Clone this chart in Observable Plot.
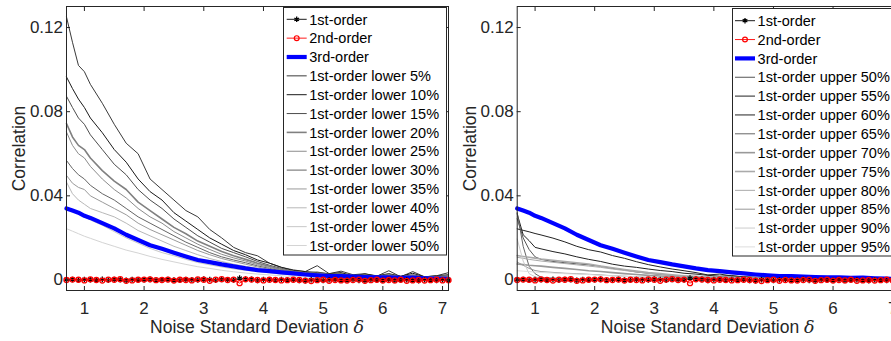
<!DOCTYPE html>
<html><head><meta charset="utf-8">
<script src="https://cdn.jsdelivr.net/npm/d3@7"></script>
<script src="https://cdn.jsdelivr.net/npm/@observablehq/plot@0.6"></script>
<style>
html,body{margin:0;padding:0;background:#fff;overflow:hidden;}
#wrap{position:relative;width:891px;height:341px;overflow:hidden;font-family:"Liberation Sans",Arial,sans-serif;}
.panel{position:absolute;top:0;width:450px;height:341px;}
#overlay{position:absolute;left:0;top:0;}
</style></head><body>
<div id="wrap"><div class="panel" id="p1" style="left:0"></div><div class="panel" id="p2" style="left:450px"></div></div>
<script>
// ---------- data ----------
const xTicks = [1, 2, 3, 4, 5, 6, 7];
const yTicks = [0, 0.04, 0.08, 0.12];
const xLabel = "Noise Standard Deviation ";
const yLabel = "Correlation";

// coarse grid for the percentile curves and 3rd-order
const G = [0.7,0.8,0.9,1.0,1.1, 1.3,1.5,1.7,1.9,2.1, 2.3,2.5,2.7,2.9,3.1, 3.3,3.5,3.7,3.9,4.1,
           4.3,4.5,4.7,4.9,5.1, 5.3,5.5,5.7,5.9,6.1, 6.3,6.5,6.7,6.9,7.1];
// fine grid for 1st/2nd-order (markers)
const xFine = [0.7,0.8,0.9,1.0,1.1,1.2,1.3,1.4,1.5,1.6, 1.7,1.8,1.9,2.0,2.1,2.2,2.3,2.4,2.5,2.6,
               2.7,2.8,2.9,3.0,3.1,3.2,3.3,3.4,3.5,3.6, 3.7,3.8,3.9,4.0,4.1,4.2,4.3,4.4,4.5,4.6,
               4.7,4.8,4.9,5.0,5.1,5.2,5.3,5.4,5.5,5.6, 5.7,5.8,5.9,6.0,6.1,6.2,6.3,6.4,6.5,6.6,
               6.7,6.8,6.9,7.0,7.1];

const first = [0.0001,0.0002,-0.0001,0.0002,0.0001,0.0000,0.0003,-0.0001,0.0002,0.0001,
               -0.0002,0.0002,0.0000,0.0001,0.0003,-0.0001,0.0001,0.0002,0.0000,-0.0001,
               0.0002,0.0001,0.0000,0.0004,0.0002,-0.0001,0.0003,0.0001,0.0000,0.0009,
               0.0004,0.0003,-0.0002,0.0002,0.0001,-0.0001,0.0002,0.0000,0.0001,-0.0002,
               -0.0003,0.0001,0.0000,-0.0002,0.0001,0.0002,-0.0001,0.0000,0.0003,-0.0002,
               -0.0003,0.0001,0.0000,-0.0001,0.0002,-0.0002,0.0000,0.0001,-0.0001,-0.0003,
               0.0001,0.0000,-0.0002,0.0001,0.0000];
const second = [0.0000,0.0002,0.0001,-0.0002,0.0003,0.0000,-0.0003,0.0002,0.0001,0.0004,
                -0.0004,-0.0002,0.0001,0.0002,0.0003,-0.0001,0.0000,0.0002,-0.0003,0.0001,
                0.0000,-0.0002,0.0003,0.0001,-0.0004,0.0002,0.0004,0.0000,0.0002,-0.0015,
                0.0003,0.0002,0.0000,-0.0002,0.0001,0.0000,-0.0002,-0.0001,0.0001,0.0000,
                -0.0003,-0.0005,-0.0001,0.0001,-0.0004,0.0000,-0.0002,-0.0003,0.0000,0.0002,
                -0.0004,-0.0001,0.0001,-0.0003,0.0000,-0.0002,0.0001,-0.0004,-0.0002,0.0000,
                -0.0003,-0.0001,0.0001,-0.0002,-0.0001];
const third = [0.034,0.033,0.032,0.0305,0.0295, 0.027,0.0245,0.0215,0.019,0.0165,
               0.0148,0.013,0.0112,0.0095,0.0085, 0.0074,0.0065,0.0055,0.0047,0.0042,
               0.0036,0.0031,0.0026,0.0022,0.0019, 0.0018,0.0016,0.0014,0.0012,0.0012,
               0.001,0.0011,0.0008,0.0006,0.0005];

// left panel: lower percentiles
const lowerNames = ["1st-order lower 5%","1st-order lower 10%","1st-order lower 15%","1st-order lower 20%","1st-order lower 25%",
                    "1st-order lower 30%","1st-order lower 35%","1st-order lower 40%","1st-order lower 45%","1st-order lower 50%"];
const lowerColors = ["#3a3a3a","#1a1a1a","#4d4d4d","#808080","#8c8c8c","#666666","#9a9a9a","#b8b8b8","#c8c8c8","#d4d4d4"];
const lowerWidths = [1,1,1,1.6,1,1,1,1,1,1];
const lower5  = [0.125,0.113,0.102,0.099,0.093, 0.084,0.074,0.065,0.060,0.048, 0.043,0.038,0.033,0.030,0.024, 0.020,0.0155,0.013,0.0115,0.008, 0.006,0.0048,0.004,0.0068,0.003, 0.0042,0.0025,0.003,0.0018,0.0044, 0.0015,0.004,0.0015,0.002,0.0035];
const lower10 = [0.0965,0.091,0.086,0.082,0.077, 0.070,0.062,0.056,0.048,0.042, 0.038,0.032,0.028,0.024,0.020, 0.017,0.014,0.012,0.0095,0.008, 0.006,0.0045,0.004,0.0035,0.003, 0.0035,0.002,0.0028,0.002,0.003, 0.0018,0.0032,0.0015,0.002,0.0025];
const lower15 = [0.0873,0.082,0.077,0.074,0.069, 0.062,0.055,0.050,0.043,0.038, 0.034,0.029,0.025,0.021,0.018, 0.015,0.013,0.011,0.0088,0.007, 0.0055,0.0042,0.0035,0.0038,0.0028, 0.003,0.002,0.0025,0.0018,0.0028, 0.0015,0.0025,0.0013,0.0018,0.002];
const lower20 = [0.0743,0.068,0.064,0.062,0.058, 0.052,0.047,0.043,0.037,0.033, 0.029,0.025,0.022,0.0185,0.016, 0.0135,0.0115,0.0098,0.008,0.0065, 0.005,0.004,0.0033,0.003,0.0025, 0.0026,0.0018,0.0022,0.0015,0.0024, 0.0014,0.002,0.0012,0.0015,0.0018];
const lower25 = [0.0703,0.064,0.060,0.058,0.054, 0.048,0.043,0.039,0.034,0.030, 0.027,0.023,0.020,0.017,0.0145, 0.0122,0.0105,0.009,0.0073,0.006, 0.0047,0.0037,0.003,0.0028,0.0023, 0.0024,0.0017,0.002,0.0014,0.0022, 0.0013,0.0018,0.0011,0.0014,0.0016];
const lower30 = [0.0568,0.053,0.050,0.048,0.045, 0.041,0.038,0.034,0.030,0.027, 0.024,0.021,0.018,0.0155,0.013, 0.011,0.0095,0.0082,0.0067,0.0055, 0.0043,0.0034,0.0028,0.0025,0.002, 0.0022,0.0015,0.0018,0.0013,0.002, 0.0012,0.0016,0.001,0.0013,0.0014];
const lower35 = [0.0497,0.046,0.044,0.043,0.040, 0.037,0.034,0.031,0.027,0.024, 0.0215,0.019,0.0165,0.014,0.012, 0.0102,0.0088,0.0075,0.0062,0.005, 0.004,0.0031,0.0026,0.0023,0.0019, 0.002,0.0014,0.0017,0.0012,0.0018, 0.0011,0.0015,0.001,0.0012,0.0013];
const lower40 = [0.0465,0.041,0.038,0.036,0.034, 0.032,0.030,0.027,0.0235,0.021, 0.0185,0.016,0.014,0.012,0.0102, 0.0088,0.0075,0.0065,0.0055,0.0045, 0.0036,0.0028,0.0024,0.0021,0.0017, 0.0018,0.0013,0.0015,0.0011,0.0016, 0.001,0.0013,0.0009,0.0011,0.0012];
const lower45 = [0.0345,0.033,0.0315,0.030,0.0285, 0.026,0.023,0.020,0.0175,0.015, 0.013,0.0115,0.0098,0.0083,0.0072, 0.0062,0.0053,0.0046,0.004,0.0034, 0.0028,0.0023,0.002,0.0018,0.0015, 0.0015,0.0011,0.0013,0.0009,0.0013, 0.0008,0.0011,0.0007,0.0009,0.001];
const lower50 = [0.0244,0.0232,0.022,0.0208,0.0198, 0.0178,0.016,0.0142,0.0128,0.0112, 0.0098,0.0086,0.0074,0.0063,0.0055, 0.0046,0.0039,0.0033,0.0028,0.0024, 0.002,0.0016,0.0014,0.0013,0.0011, 0.0011,0.0008,0.001,0.0007,0.0009, 0.0006,0.0008,0.0005,0.0006,0.0007];

// right panel: upper percentiles
const upperNames = ["1st-order upper 50%","1st-order upper 55%","1st-order upper 60%","1st-order upper 65%","1st-order upper 70%",
                    "1st-order upper 75%","1st-order upper 80%","1st-order upper 85%","1st-order upper 90%","1st-order upper 95%"];
const upperColors = ["#555555","#222222","#222222","#666666","#999999","#aaaaaa","#aaaaaa","#999999","#cccccc","#dddddd"];
const upperWidths = [1,1,1,1,1.6,1.6,1,1,1,1];
const upper50 = [0.0291,0.020,0.0145,0.011,0.0098, 0.0088,0.0082,0.0077,0.0072,0.0065, 0.0055,0.0048,0.0038,0.0032,0.0026, 0.0022,0.0018,0.0016,0.0013,0.0012, 0.0014,0.0010,0.0009,0.0008,0.0007, 0.0007,0.0006,0.0005,0.0006,0.0004, 0.0005,0.0004,0.0004,0.0003,0.0003];
const upper55 = [0.0243,0.0236,0.0229,0.0221,0.0214, 0.0199,0.0181,0.0160,0.0144,0.0133, 0.0116,0.0103,0.0087,0.0073,0.0062, 0.0052,0.0044,0.0035,0.0024,0.0028, 0.0019,0.0015,0.0013,0.0011,0.0009, 0.0010,0.0008,0.0007,0.0008,0.0006, 0.0007,0.0005,0.0006,0.0005,0.0004];
const upper60 = [0.0314,0.0215,0.0187,0.0155,0.0148, 0.0135,0.0124,0.0110,0.0098,0.0088, 0.0075,0.0066,0.0060,0.0052,0.0045, 0.0040,0.0032,0.0028,0.0022,0.0018, 0.0021,0.0014,0.0012,0.0010,0.0008, 0.0009,0.0007,0.0006,0.0007,0.0005, 0.0006,0.0004,0.0005,0.0004,0.0003];
const upper65 = [0.0320,0.0160,0.0065,0.0030,0.0013, 0.0008,0.0006,0.0005,0.0005,0.0004, 0.0004,0.0003,0.0004,0.0003,0.0003, 0.0002,0.0003,0.0002,0.0002,0.0003, 0.0002,0.0002,0.0001,0.0002,0.0001, 0.0002,0.0001,0.0001,0.0002,0.0001, 0.0001,0.0001,0.0002,0.0001,0.0001];
const upper70 = [0.0076,0.0073,0.0070,0.0068,0.0066, 0.0060,0.0055,0.0050,0.0044,0.0040, 0.0035,0.0030,0.0026,0.0022,0.0019, 0.0016,0.0013,0.0012,0.0010,0.0009, 0.0010,0.0008,0.0007,0.0006,0.0006, 0.0005,0.0005,0.0004,0.0005,0.0004, 0.0004,0.0003,0.0004,0.0003,0.0003];
const upper75 = [0.0116,0.0112,0.0108,0.0104,0.0100, 0.0094,0.0088,0.0082,0.0076,0.0066, 0.0058,0.0050,0.0042,0.0035,0.0030, 0.0025,0.0020,0.0017,0.0014,0.0012, 0.0013,0.0010,0.0009,0.0008,0.0007, 0.0007,0.0006,0.0005,0.0006,0.0005, 0.0005,0.0004,0.0004,0.0004,0.0003];
const upper80 = [0.0108,0.0103,0.0098,0.0094,0.0090, 0.0084,0.0078,0.0072,0.0066,0.0060, 0.0052,0.0045,0.0038,0.0032,0.0027, 0.0022,0.0018,0.0015,0.0013,0.0011, 0.0012,0.0009,0.0008,0.0007,0.0006, 0.0006,0.0005,0.0005,0.0005,0.0004, 0.0004,0.0004,0.0003,0.0003,0.0003];
const upper85 = [0.0085,0.0070,0.0055,0.0045,0.0040, 0.0036,0.0032,0.0030,0.0027,0.0024, 0.0020,0.0018,0.0015,0.0013,0.0011, 0.0010,0.0009,0.0008,0.0007,0.0006, 0.0007,0.0005,0.0005,0.0004,0.0004, 0.0004,0.0003,0.0003,0.0004,0.0003, 0.0003,0.0002,0.0003,0.0002,0.0002];
const upper90 = [0.0195,0.0090,0.0030,0.0015,0.0010, 0.0008,0.0007,0.0006,0.0005,0.0005, 0.0004,0.0004,0.0003,0.0004,0.0003, 0.0003,0.0002,0.0003,0.0002,0.0002, 0.0002,0.0002,0.0001,0.0002,0.0001, 0.0001,0.0001,0.0002,0.0001,0.0001, 0.0001,0.0001,0.0001,0.0001,0.0001];
const upper95 = [0.0044,0.0042,0.0040,0.0038,0.0036, 0.0033,0.0030,0.0028,0.0026,0.0022, 0.0020,0.0017,0.0015,0.0013,0.0011, 0.0010,0.0009,0.0008,0.0007,0.0006, 0.0006,0.0005,0.0005,0.0004,0.0004, 0.0004,0.0003,0.0003,0.0003,0.0003, 0.0003,0.0002,0.0002,0.0002,0.0002];

const lowerSeries = [lower5,lower10,lower15,lower20,lower25,lower30,lower35,lower40,lower45,lower50];
const upperSeries = [upper50,upper55,upper60,upper65,upper70,upper75,upper80,upper85,upper90,upper95];

const BLUE = "#0000ff", RED = "#ff0000", BLACK = "#000000", AXIS = "#262626";
const FONT = '"Liberation Sans", Arial, Helvetica, sans-serif';

// ---------- panels ----------
function makePanel(series, colors, widths, marginLeft, marginRight) {
  const marks = [];
  series.forEach((vals, k) => {
    marks.push(Plot.line(G.map((x, i) => ({x, v: vals[i]})), {x: "x", y: "v", stroke: colors[k], strokeWidth: widths[k]}));
  });
  marks.push(Plot.line(G.map((x, i) => ({x, v: third[i]})), {x: "x", y: "v", stroke: BLUE, strokeWidth: 4.2}));
  const f1 = xFine.map((x, i) => ({x, v: first[i]}));
  const f2 = xFine.map((x, i) => ({x, v: second[i]}));
  marks.push(Plot.line(f1, {x: "x", y: "v", stroke: BLACK, strokeWidth: 0.9}));
  marks.push(Plot.dot(f1, {x: "x", y: "v", symbol: "asterisk", r: 2.6, stroke: BLACK, strokeWidth: 1.3}));
  marks.push(Plot.line(f2, {x: "x", y: "v", stroke: RED, strokeWidth: 0.9}));
  marks.push(Plot.dot(f2, {x: "x", y: "v", symbol: "circle", r: 2.5, stroke: RED, fill: "none", strokeWidth: 1.3}));
  marks.push(Plot.axisX(xTicks, {anchor: "bottom", tickSize: -4, tickPadding: 15, tickFormat: d => String(d), fontSize: 17, color: AXIS, label: null}));
  marks.push(Plot.axisX(xTicks, {anchor: "top", tickSize: -4, tickFormat: () => "", color: AXIS, label: null}));
  marks.push(Plot.axisY(yTicks, {anchor: "left", tickSize: -4, tickPadding: 7.5, tickFormat: d => d === 0 ? "0" : d.toFixed(2), fontSize: 17, color: AXIS, label: null}));
  marks.push(Plot.axisY(yTicks, {anchor: "right", tickSize: -4, tickFormat: () => "", color: AXIS, label: null}));
  marks.push(Plot.frame({stroke: AXIS, strokeWidth: 1}));
  return Plot.plot({
    width: 450, height: 341,
    marginTop: 6, marginBottom: 51, marginLeft, marginRight,
    x: {domain: [0.7, 7.1]},
    y: {domain: [-0.005, 0.13]},
    style: {fontFamily: FONT, fontSize: "17px", color: AXIS, background: "transparent", overflow: "visible"},
    marks
  });
}

document.getElementById("p1").appendChild(makePanel(lowerSeries, lowerColors, lowerWidths, 66, 2));
document.getElementById("p2").appendChild(makePanel(upperSeries, upperColors, upperWidths, 66.7, 1.9));

// ---------- overlay: axis titles + legends ----------
const svg = d3.select("#wrap").append("svg").attr("id", "overlay")
  .attr("width", 891).attr("height", 341).style("font-family", FONT);

[{cx: 257, ly: 25}, {cx: 707.7, ly: 475.7}].forEach(p => {
  const t = svg.append("text").attr("x", p.cx).attr("y", 333.3).attr("text-anchor", "middle")
    .attr("font-size", 17.5).attr("fill", AXIS);
  t.append("tspan").text(xLabel);
  t.append("tspan").attr("font-style", "italic").attr("font-family", '"DejaVu Serif", "Liberation Serif", serif').text("δ");
  svg.append("text").attr("transform", `translate(${p.ly},148.5) rotate(-90)`).attr("text-anchor", "middle")
    .attr("font-size", 17.5).attr("fill", AXIS).text(yLabel);
});

function legend(x0, y0, w, h, lx1, row0, names, colors, widths) {
  const g = svg.append("g");
  g.append("rect").attr("x", x0).attr("y", y0).attr("width", w).attr("height", h)
    .attr("fill", "#fff").attr("stroke", AXIS).attr("stroke-width", 1);
  const entries = [
    {name: "1st-order", color: BLACK, width: 0.9, mark: "star"},
    {name: "2nd-order", color: RED, width: 0.9, mark: "circle"},
    {name: "3rd-order", color: BLUE, width: 4.2}
  ].concat(names.map((n, i) => ({name: n, color: colors[i], width: widths[i]})));
  const step = 18.85;
  entries.forEach((e, i) => {
    const y = row0 + i * step;
    g.append("line").attr("x1", lx1).attr("x2", lx1 + 20).attr("y1", y).attr("y2", y)
      .attr("stroke", e.color).attr("stroke-width", e.width);
    if (e.mark === "star") {
      g.append("path").attr("d", d3.symbol(d3.symbolAsterisk, 20)()).attr("transform", `translate(${lx1 + 10},${y})`)
        .attr("stroke", e.color).attr("stroke-width", 1.3).attr("fill", "none");
    } else if (e.mark === "circle") {
      g.append("circle").attr("cx", lx1 + 10).attr("cy", y).attr("r", 2.4).attr("stroke", e.color)
        .attr("stroke-width", 1.2).attr("fill", "none");
    }
    g.append("text").attr("x", lx1 + 22.6).attr("y", y + 5.2).attr("font-size", 14.5).attr("fill", "#000").text(e.name);
  });
}
legend(283.5, 7.5, 163, 247.5, 286.7, 19.3, lowerNames, lowerColors, lowerWidths);
legend(732.5, 8.5, 200, 247.5, 735, 20.7, upperNames, upperColors, upperWidths);
</script>
</body></html>
